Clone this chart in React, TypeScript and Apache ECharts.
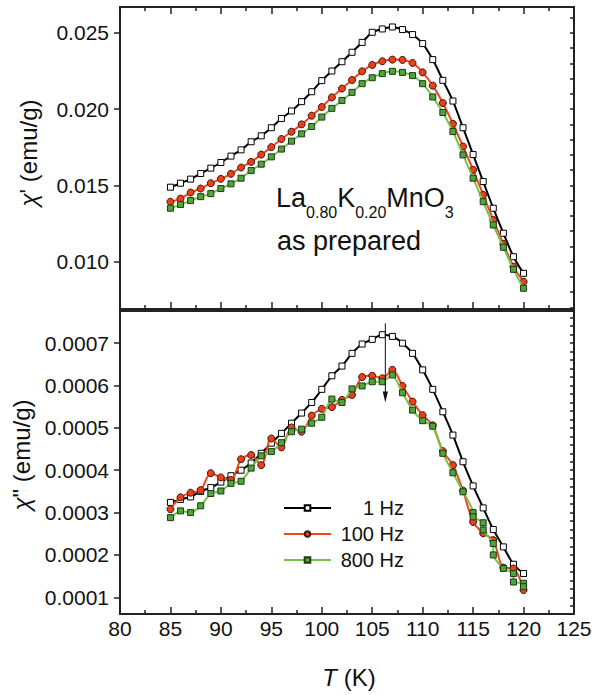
import React, { useEffect, useRef } from "react";
import * as echarts from "echarts";

const FONT = 'Arial, "Liberation Sans", Helvetica, sans-serif';

// Temperature (K)
const temps = [85, 86, 87, 88, 89, 90, 91, 92, 93, 94, 95, 96, 97, 98, 99, 100, 101, 102, 103, 104, 105, 106, 107, 108, 109, 110, 111, 112, 113, 114, 115, 116, 117, 118, 119, 120];

// chi' (emu/g)
const re1Hz = [0.01488, 0.01514, 0.01541, 0.01578, 0.01613, 0.0165, 0.01692, 0.01733, 0.01786, 0.01825, 0.01878, 0.01939, 0.01988, 0.02049, 0.02114, 0.02187, 0.0225, 0.02311, 0.02373, 0.02438, 0.02504, 0.02526, 0.02539, 0.02522, 0.02489, 0.0243, 0.02325, 0.02189, 0.02053, 0.01878, 0.01702, 0.01525, 0.0135, 0.01186, 0.01032, 0.00923];
const re100Hz = [0.01392, 0.01413, 0.01453, 0.01479, 0.01514, 0.01543, 0.01576, 0.01617, 0.01654, 0.01702, 0.01751, 0.01804, 0.01852, 0.019, 0.01957, 0.02014, 0.02077, 0.02135, 0.02191, 0.02248, 0.0229, 0.02314, 0.02325, 0.02323, 0.02303, 0.02241, 0.02154, 0.0204, 0.01904, 0.01755, 0.01602, 0.01438, 0.01273, 0.01116, 0.00967, 0.00868];
const re800Hz = [0.0135, 0.01374, 0.014, 0.01426, 0.01446, 0.01479, 0.0151, 0.01547, 0.01597, 0.01639, 0.01687, 0.01738, 0.0179, 0.01838, 0.01886, 0.01948, 0.02005, 0.02057, 0.0211, 0.02167, 0.02206, 0.02233, 0.02248, 0.02241, 0.0222, 0.02167, 0.0208, 0.01978, 0.01853, 0.017, 0.01547, 0.01393, 0.0124, 0.01094, 0.00949, 0.00825];

// chi'' (emu/g)
const im1Hz = [0.000324, 0.000331, 0.000337, 0.00035, 0.000359, 0.000372, 0.000387, 0.0004, 0.000417, 0.00044, 0.000464, 0.000487, 0.000511, 0.000535, 0.00056, 0.000591, 0.000623, 0.000646, 0.000676, 0.000698, 0.000709, 0.00072, 0.000716, 0.0007, 0.000676, 0.000637, 0.000591, 0.000538, 0.000483, 0.00042, 0.000363, 0.000311, 0.00026, 0.000219, 0.000178, 0.000156];
const im100Hz = [0.000308, 0.000336, 0.000347, 0.000353, 0.000393, 0.000383, 0.000377, 0.000426, 0.000436, 0.000412, 0.000475, 0.000454, 0.000501, 0.000491, 0.000529, 0.000545, 0.000549, 0.000566, 0.000578, 0.00062, 0.000623, 0.000617, 0.000637, 0.000599, 0.000562, 0.00053, 0.000506, 0.000445, 0.000412, 0.000352, 0.000278, 0.000251, 0.000235, 0.00017, 0.000168, 0.000117];
const im800T = [85, 86, 87, 88, 89, 90, 91, 92, 93, 94, 95, 96, 97, 98, 99, 100, 101, 102, 103, 104, 105, 106, 107, 108, 109, 110, 111, 112, 113, 114, 115, 115, 116, 116, 117, 117, 118, 119, 119, 120, 120];
const im800Hz = [0.000288, 0.000304, 0.0003, 0.000316, 0.000345, 0.000351, 0.000369, 0.000374, 0.000405, 0.000434, 0.000444, 0.000465, 0.000491, 0.000497, 0.000511, 0.000525, 0.000568, 0.00056, 0.000592, 0.000599, 0.000609, 0.000609, 0.000625, 0.000583, 0.000542, 0.000517, 0.000504, 0.00044, 0.000394, 0.000349, 0.0003, 0.00029, 0.000276, 0.000259, 0.000227, 0.0002, 0.000168, 0.000156, 0.000136, 0.000133, 0.000125];

const legendNames = ["1 Hz", "100 Hz", "800 Hz"];
const topTicks = [0.01, 0.015, 0.02, 0.025];
const bottomTicks = [0.0001, 0.0002, 0.0003, 0.0004, 0.0005, 0.0006, 0.0007];
const xTickLabels = [80, 85, 90, 95, 100, 105, 110, 115, 120, 125];

// arrow annotation (T, from chi'', to chi'')
const arrowT = 106.3;
const arrowFrom = 0.000747;
const arrowTo = 0.00056;

const pairs = (xs: number[], ys: number[]) => xs.map((x, i) => [x, ys[i]]);

export default function App() {
  const ref = useRef<HTMLDivElement>(null);
  useEffect(() => {
    document.body.style.margin = "0";
    const chart = echarts.init(ref.current!, null, { renderer: "svg" });

    const topMin = 0.00689, topMax = 0.0267;
    const botMin = 0.0000605, botMax = 0.000776;
    const topMinor: number[] = [];
    for (let k = 7; k <= 26; k++) topMinor.push(k / 1000);
    const botMinor: number[] = [];
    for (let k = 4; k <= 38; k++) botMinor.push(k * 0.00002);

    const tickLine = { color: "#222", width: 1.5 };
    const xBase: any = {
      type: "value", min: xTickLabels[0], max: xTickLabels[xTickLabels.length - 1], interval: 5,
      axisLine: { show: false }, splitLine: { show: false },
      axisTick: { inside: true, length: 7, lineStyle: tickLine },
      minorTick: { show: true, splitNumber: 2, length: 4, lineStyle: tickLine },
      axisLabel: { show: false },
    };
    const yMajor = (grid: number, min: number, max: number, ticks: number[], digits: number): any => ({
      type: "value", gridIndex: grid, min, max,
      axisLine: { show: false }, splitLine: { show: false },
      axisTick: { show: true, inside: false, length: 6, customValues: ticks, lineStyle: tickLine },
      axisLabel: { customValues: ticks, formatter: (v: number) => v.toFixed(digits), fontSize: 21, margin: 11, color: "#111", fontFamily: FONT },
    });
    const yMinor = (grid: number, min: number, max: number, ticks: number[]): any => ({
      type: "value", gridIndex: grid, min, max,
      axisLine: { show: false }, splitLine: { show: false },
      axisTick: { show: true, inside: true, length: 4, customValues: ticks, lineStyle: tickLine },
      axisLabel: { show: false },
    });

    const styles = [
      { line: "#000", fill: "#fff", border: "#000", symbol: "rect", size: 6 },
      { line: "#f0471f", fill: "#ea3f1a", border: "#3a1a10", symbol: "circle", size: 7 },
      { line: "#74c449", fill: "#4ea53a", border: "#1d3a14", symbol: "rect", size: 6 },
    ];
    const mk = (i: number, data: number[][], x: number, y: number, smooth: number): any => ({
      type: "line", name: legendNames[i], xAxisIndex: x, yAxisIndex: y, data, smooth,
      symbol: styles[i].symbol, symbolSize: styles[i].size, showSymbol: true,
      lineStyle: { color: styles[i].line, width: 2 },
      itemStyle: { color: styles[i].fill, borderColor: styles[i].border, borderWidth: 1 },
      z: 3 + i,
    });

    chart.setOption({
      animation: false,
      textStyle: { fontFamily: FONT },
      grid: [
        { left: 120, top: 7, width: 454, height: 302, show: true, borderColor: "#222", borderWidth: 2, backgroundColor: "transparent" },
        { left: 120, top: 311, width: 454, height: 303, show: true, borderColor: "#222", borderWidth: 2, backgroundColor: "transparent" },
      ],
      xAxis: [
        { ...xBase, gridIndex: 0, position: "bottom" },
        { ...xBase, gridIndex: 0, position: "top" },
        { ...xBase, gridIndex: 1, position: "bottom", axisLabel: { show: true, fontSize: 21, color: "#111", margin: 4, fontFamily: FONT } },
      ],
      yAxis: [
        yMajor(0, topMin, topMax, topTicks, 3),
        yMinor(0, topMin, topMax, topMinor),
        yMajor(1, botMin, botMax, bottomTicks, 4),
        yMinor(1, botMin, botMax, botMinor),
      ],
      legend: {
        orient: "vertical", left: 283, top: 498, padding: 0, itemWidth: 47, itemHeight: 7, itemGap: 6,
        data: legendNames, selectedMode: false,
        formatter: (n: string) => `{r|${n}}`,
        textStyle: { fontSize: 20, lineHeight: 20, color: "#111", fontFamily: FONT,
          rich: { r: { width: 68, align: "right", fontSize: 20, lineHeight: 20, color: "#111", fontFamily: FONT } } },
      },
      series: [
        mk(0, pairs(temps, re1Hz), 0, 0, 0.3),
        mk(1, pairs(temps, re100Hz), 0, 0, 0.3),
        mk(2, pairs(temps, re800Hz), 0, 0, 0.3),
        mk(0, pairs(temps, im1Hz), 2, 2, 0.3),
        mk(1, pairs(temps, im100Hz), 2, 2, 0.3),
        mk(2, pairs(im800T, im800Hz), 2, 2, 0.2),
      ],
    });

    const p1 = chart.convertToPixel({ xAxisIndex: 2, yAxisIndex: 2 } as any, [arrowT, arrowFrom]) as number[];
    const p2 = chart.convertToPixel({ xAxisIndex: 2, yAxisIndex: 2 } as any, [arrowT, arrowTo]) as number[];
    const headH = 11, headW = 2.6;

    const txt = (x: number, y: number, text: string, extra: any, rot = 0): any => ({
      type: "text", x, y, rotation: rot,
      style: { text, fill: "#111", fontFamily: FONT, ...extra },
    });

    chart.setOption({
      graphic: [
        txt(28, 153, "{i|χ}' (emu/g)", { fontSize: 24, align: "center", verticalAlign: "middle", textAlign: "center", textVerticalAlign: "middle",
          rich: { i: { fontStyle: "italic", fontSize: 24, fontFamily: FONT, fill: "#111" } } }, Math.PI / 2),
        txt(21, 455, '{i|χ}" (emu/g)', { fontSize: 24, align: "center", verticalAlign: "middle", textAlign: "center", textVerticalAlign: "middle",
          rich: { i: { fontStyle: "italic", fontSize: 24, fontFamily: FONT, fill: "#111" } } }, Math.PI / 2),
        txt(349, 677, "{i|T} (K)", { fontSize: 24, align: "center", verticalAlign: "middle", textAlign: "center", textVerticalAlign: "middle",
          rich: { i: { fontStyle: "italic", fontSize: 24, fontFamily: FONT, fill: "#111" } } }),
        txt(276, 184, "{b|La}{s|0.80}{b|K}{s|0.20}{b|MnO}{s|3}", { fontSize: 27, align: "left", verticalAlign: "top", textAlign: "left", textVerticalAlign: "top",
          rich: {
            b: { fontSize: 27, lineHeight: 27, verticalAlign: "top", fontFamily: FONT, fill: "#111" },
            s: { fontSize: 16, lineHeight: 16, verticalAlign: "top", padding: [20, 0, 0, 0], fontFamily: FONT, fill: "#111" },
          } }),
        txt(277, 227, "as prepared", { fontSize: 27, lineHeight: 27, align: "left", verticalAlign: "top", textAlign: "left", textVerticalAlign: "top" }),
        { type: "line", shape: { x1: p1[0], y1: p1[1], x2: p2[0], y2: p2[1] - headH + 1 }, style: { stroke: "#111", lineWidth: 1 }, z: 10 },
        { type: "polygon", shape: { points: [[p2[0] - headW, p2[1] - headH], [p2[0] + headW, p2[1] - headH], [p2[0], p2[1]]] }, style: { fill: "#111" }, z: 10 },
      ],
    });

    return () => chart.dispose();
  }, []);
  return <div ref={ref} style={{ width: 598, height: 695 }} />;
}
